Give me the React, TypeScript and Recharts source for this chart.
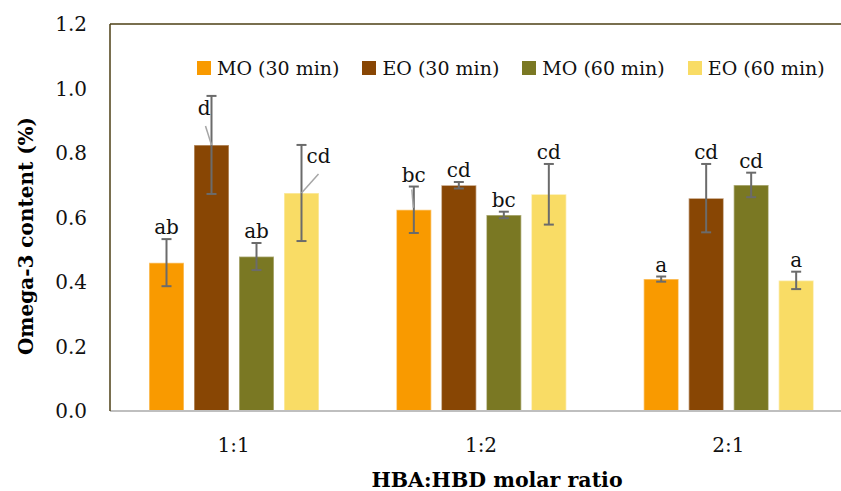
import React from 'react';
import { BarChart, Bar, XAxis, YAxis, ErrorBar, LabelList, Legend, ReferenceLine } from 'recharts';

const categories = ['1:1', '1:2', '2:1'];

const mo30 = [0.46, 0.624, 0.409];
const mo30Err = [0.073, 0.072, 0.008];
const eo30 = [0.825, 0.7, 0.66];
const eo30Err = [0.152, 0.01, 0.106];
const mo60 = [0.479, 0.608, 0.701];
const mo60Err = [0.042, 0.01, 0.038];
const eo60 = [0.676, 0.672, 0.405];
const eo60Err = [0.149, 0.094, 0.027];

const mo30Letters = ['ab', 'bc', 'a'];
const eo30Letters = ['d', 'cd', 'cd'];
const mo60Letters = ['ab', 'bc', 'cd'];
const eo60Letters = ['cd', 'cd', 'a'];

const yTicks = [0, 0.2, 0.4, 0.6, 0.8, 1.0, 1.2];

const FONT = '"DejaVu Serif", serif';
const DARK = '#4d3f14';

const series = [
  { key: 'mo30', name: 'MO (30 min)', color: '#f99a00', values: mo30, errs: mo30Err, letters: mo30Letters },
  { key: 'eo30', name: 'EO (30 min)', color: '#884604', values: eo30, errs: eo30Err, letters: eo30Letters },
  { key: 'mo60', name: 'MO (60 min)', color: '#7a7823', values: mo60, errs: mo60Err, letters: mo60Letters },
  { key: 'eo60', name: 'EO (60 min)', color: '#f9dc65', values: eo60, errs: eo60Err, letters: eo60Letters },
];

const data = categories.map((ratio, i) => {
  const row: Record<string, string | number> = { ratio };
  series.forEach((s) => {
    row[s.key] = s.values[i];
    row[s.key + 'Err'] = s.errs[i];
  });
  return row;
});

// letters that would sit on a long error bar are moved aside with a leader line
const sideLabels: Record<string, 'left' | 'right' | 'lead'> = {
  'eo30-0': 'left',
  'eo60-0': 'right',
  'mo30-1': 'lead',
};

type S = (typeof series)[number];

const makeLetter = (s: S) => (props: any) => {
  const vb = props.viewBox ?? props;
  const x = Number(props.x ?? vb.x);
  const y = Number(props.y ?? vb.y);
  const width = Number(props.width ?? vb.width);
  const height = Number(props.height ?? vb.height);
  const index = props.index as number;
  const k = height / s.values[index];
  const cx = x + width / 2;
  const errTop = y - s.errs[index] * k;
  const txt = s.letters[index];
  const mode = sideLabels[`${s.key}-${index}`];
  const textProps = { fontFamily: FONT, fontSize: 20, fill: '#111' };
  const lead = { stroke: '#a6a6a6', strokeWidth: 1.5 };

  if (mode === 'left') {
    return (
      <g>
        <line x1={cx - 6} y1={errTop + 30} x2={cx} y2={y} {...lead} />
        <text x={cx - 1} y={errTop + 19} textAnchor="end" {...textProps}>{txt}</text>
      </g>
    );
  }
  if (mode === 'right') {
    return (
      <g>
        <line x1={cx} y1={y} x2={cx + 17} y2={y - 19} {...lead} />
        <text x={cx + 5} y={y - 30} textAnchor="start" {...textProps}>{txt}</text>
      </g>
    );
  }
  return (
    <g>
      {mode === 'lead' && <line x1={cx - 0.5} y1={y - 2} x2={cx - 2} y2={errTop + 3} {...lead} />}
      <text x={cx} y={errTop - 5} textAnchor="middle" {...textProps}>{txt}</text>
    </g>
  );
};

const renderLegend = () => (
  <div style={{ display: 'flex', fontFamily: FONT, fontSize: 19, color: '#111', whiteSpace: 'nowrap' }}>
    {series.map((s) => (
      <div key={s.key} style={{ display: 'flex', alignItems: 'center', marginRight: 23 }}>
        <span style={{ display: 'inline-block', width: 14, height: 14, background: s.color, marginRight: 6 }} />
        <span>{s.name}</span>
      </div>
    ))}
  </div>
);

export default function App() {
  return (
    <div
      style={{
        position: 'fixed',
        left: 0,
        top: 0,
        width: 841,
        height: 491,
        overflow: 'hidden',
        background: '#fff',
      }}
    >
      <BarChart
        width={860}
        height={491}
        data={data}
        margin={{ top: 24, right: 8, left: 0, bottom: 0 }}
        barSize={35}
        barGap={10}
      >
        <XAxis
          dataKey="ratio"
          height={80}
          tickSize={0}
          tickMargin={27}
          tickLine={false}
          axisLine={{ stroke: '#bfbfbf', strokeWidth: 2 }}
          tick={{ fontFamily: FONT, fontSize: 20, fill: '#111' }}
          label={{
            content: () => (
              <text x={497} y={487} textAnchor="middle" fontFamily={FONT} fontSize={20.5} fontWeight="bold" fill="#000">
                HBA:HBD molar ratio
              </text>
            ),
          }}
        />
        <YAxis
          width={110}
          domain={[0, 1.2]}
          ticks={yTicks}
          tickFormatter={(v: number) => v.toFixed(1)}
          tickSize={0}
          tickMargin={23}
          tickLine={false}
          axisLine={{ stroke: DARK, strokeWidth: 1.5 }}
          tick={{ fontFamily: FONT, fontSize: 20, fill: '#111' }}
          label={{
            content: () => (
              <text
                transform="rotate(-90)"
                x={-236}
                y={33}
                textAnchor="middle"
                fontFamily={FONT}
                fontSize={20}
                fontWeight="bold"
                fill="#000"
              >
                Omega-3 content (%)
              </text>
            ),
          }}
        />
        <ReferenceLine y={1.2} stroke={DARK} strokeWidth={1.5} />
        <Legend
          layout="horizontal"
          verticalAlign="middle"
          align="center"
          content={renderLegend}
          wrapperStyle={{ top: 57, left: 197, width: 'auto' }}
        />
        {series.map((s) => (
          <Bar
            key={s.key}
            dataKey={s.key}
            name={s.name}
            fill={s.color}
            stroke="#ffffff"
            strokeOpacity={0.45}
            strokeWidth={1.5}
            isAnimationActive={false}
          >
            <ErrorBar
              dataKey={s.key + 'Err'}
              width={5}
              stroke="#6b6b6b"
              strokeWidth={2}
              isAnimationActive={false}
            />
            <LabelList dataKey={s.key} content={makeLetter(s)} />
          </Bar>
        ))}
      </BarChart>
    </div>
  );
}
